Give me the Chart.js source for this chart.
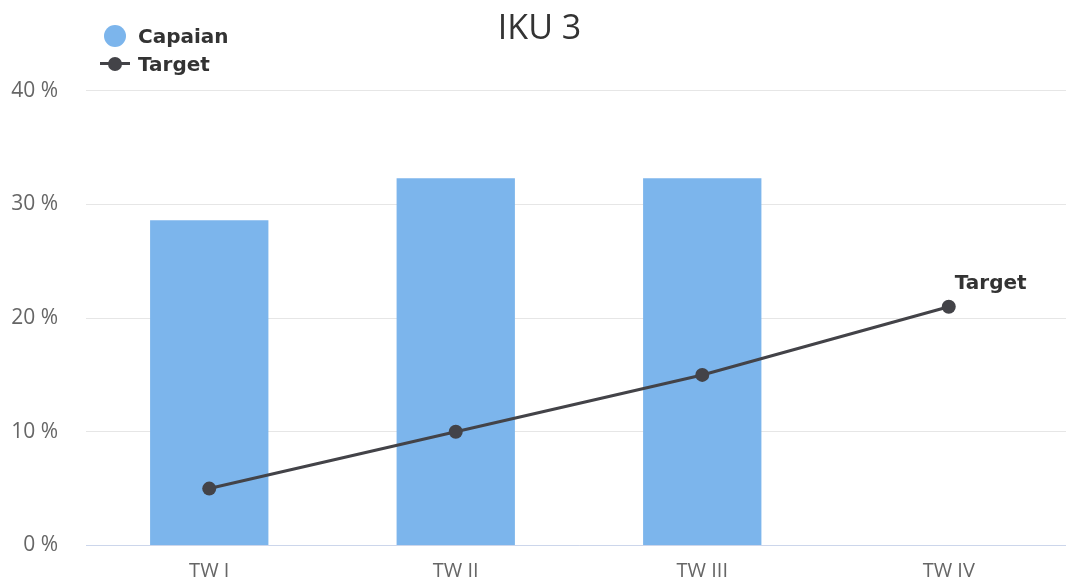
<!DOCTYPE html>
<html>
<head>
<meta charset="utf-8">
<script src="https://cdn.jsdelivr.net/npm/chart.js@4"></script>
<style>
  html, body { margin: 0; padding: 0; background: #fff; overflow: hidden; }
  #wrap { position: relative; width: 1066px; height: 583px; overflow: hidden; }
  #legend { position: absolute; left: 100px; top: 22px; font: bold 20px "DejaVu Sans", sans-serif; color: #333; }
  #legend .item { display: flex; align-items: center; height: 28px; }
  #legend .sym { position: relative; width: 30px; height: 28px; margin-right: 8px; }
</style>
</head>
<body>
<div id="wrap">
  <canvas id="chart" width="1079" height="586"></canvas>
  <div id="legend"></div>
</div>
<script>
const categories = ["TW I", "TW II", "TW III", "TW IV"];
const capaianValues = [28.6, 32.3, 32.3, null];
const targetValues = [5, 10, 15, 21];
const yTicks = [0, 10, 20, 30, 40];

const barColor = "#7cb5ec";
const lineColor = "#434348";

// label "Target" di titik terakhir garis
const lastPointLabel = {
    id: "lastPointLabel",
    afterDatasetsDraw(chart) {
        const meta = chart.getDatasetMeta(1);
        const pt = meta.data[meta.data.length - 1];
        if (!pt) return;
        const ctx = chart.ctx;
        ctx.save();
        ctx.font = 'bold 20px "DejaVu Sans", sans-serif';
        ctx.fillStyle = "#333";
        ctx.textAlign = "left";
        ctx.textBaseline = "middle";
        ctx.fillText(chart.data.datasets[1].label, pt.x + 6, pt.y - 23);
        ctx.restore();
    }
};

const chart = new Chart(document.getElementById("chart"), {
    type: "bar",
    data: {
        labels: categories,
        datasets: [{
            label: "Capaian",
            data: capaianValues,
            backgroundColor: barColor,
            barPercentage: 0.48,
            categoryPercentage: 1,
            order: 1
        }, {
            type: "line",
            label: "Target",
            data: targetValues,
            borderColor: lineColor,
            backgroundColor: lineColor,
            borderWidth: 3,
            pointRadius: 7,
            pointBorderWidth: 0,
            pointBackgroundColor: lineColor,
            tension: 0,
            fill: false,
            order: 0
        }]
    },
    options: {
        responsive: false,
        animation: false,
        layout: { padding: { left: 0, right: 0, top: 0, bottom: 0 } },
        plugins: {
            legend: { display: false },
            tooltip: { enabled: false },
            title: {
                display: true,
                text: "IKU 3",
                color: "#333",
                font: { family: "Open Sans", size: 34, weight: "normal" },
                padding: { top: 9, bottom: 41 }
            }
        },
        scales: {
            x: {
                grid: { display: false, drawTicks: false },
                border: { display: true, color: "#ccd6eb", width: 1 },
                ticks: { color: "#666", font: { family: "Open Sans", size: 20 }, padding: 14 },
                afterFit(scale) { scale.height = 35; }
            },
            y: {
                min: 0,
                max: 40,
                afterBuildTicks(scale) { scale.ticks = yTicks.map(v => ({ value: v })); },
                afterFit(scale) { scale.width = 86; },
                grid: { color: "#e6e6e6", drawTicks: false },
                border: { display: false },
                ticks: {
                    color: "#666",
                    font: { family: "Open Sans", size: 21 },
                    padding: 28,
                    callback: v => v + " %"
                }
            }
        }
    },
    plugins: [lastPointLabel]
});

// legenda vertikal di kiri atas
const legendEl = document.getElementById("legend");
chart.data.datasets.forEach(ds => {
    const item = document.createElement("div");
    item.className = "item";
    const sym = document.createElement("div");
    sym.className = "sym";
    if (ds.type === "line") {
        sym.innerHTML = '<div style="position:absolute;left:0;top:12px;width:30px;height:3px;background:' + lineColor + '"></div>' +
            '<div style="position:absolute;left:8px;top:7px;width:14px;height:14px;border-radius:50%;background:' + lineColor + '"></div>';
    } else {
        sym.innerHTML = '<div style="position:absolute;left:4px;top:3px;width:22px;height:22px;border-radius:50%;background:' + barColor + '"></div>';
    }
    item.appendChild(sym);
    item.appendChild(document.createTextNode(ds.label));
    legendEl.appendChild(item);
});
</script>
</body>
</html>
